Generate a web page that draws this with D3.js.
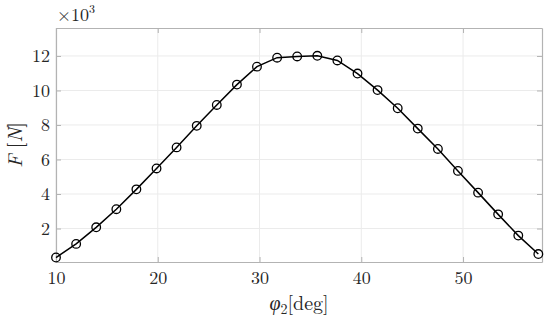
<!DOCTYPE html>
<html>
<head>
<meta charset="utf-8">
<script src="https://cdn.jsdelivr.net/npm/d3@7"></script>
<style>
  body { margin:0; background:#fff; }
  text { font-family: "Latin Modern Roman", "Liberation Serif", "DejaVu Serif", serif; fill:#262626; }
</style>
</head>
<body>
<div id="svgContainer"></div>
<script>
// data
var phi2 = [10.0, 11.98, 13.95, 15.93, 17.9, 19.88, 21.85, 23.83, 25.8, 27.78, 29.75, 31.73, 33.7,
            35.68, 37.65, 39.63, 41.6, 43.58, 45.55, 47.53, 49.5, 51.48, 53.45, 55.43, 57.4];
var force = [0.32, 1.11, 2.07, 3.12, 4.27, 5.48, 6.70, 7.95, 9.16, 10.34, 11.38, 11.90, 11.97,
             12.01, 11.74, 10.98, 10.02, 8.97, 7.79, 6.61, 5.34, 4.08, 2.82, 1.59, 0.52];
var xTicks = [10, 20, 30, 40, 50];
var yTicks = [2, 4, 6, 8, 10, 12];

var svgWidth = 550, svgHeight = 320;
var margin = {top:28, left:56, right:8, bottom:58};
var serif = '"Latin Modern Roman", "Liberation Serif", "DejaVu Serif", serif';

var svg = d3.select("#svgContainer").append("svg")
    .attr("width", svgWidth)
    .attr("height", svgHeight);

var x = d3.scaleLinear().domain([10, 57.76]).range([margin.left, svgWidth - margin.right]);
var y = d3.scaleLinear().domain([0.06, 13.62]).range([svgHeight - margin.bottom, margin.top]);

// grid
svg.append("g").selectAll("line").data(xTicks).enter().append("line")
    .attr("x1", d => x(d)).attr("x2", d => x(d))
    .attr("y1", y.range()[0]).attr("y2", y.range()[1])
    .attr("stroke", "#ebebeb").attr("stroke-width", 1);
svg.append("g").selectAll("line").data(yTicks).enter().append("line")
    .attr("y1", d => y(d)).attr("y2", d => y(d))
    .attr("x1", x.range()[0]).attr("x2", x.range()[1])
    .attr("stroke", "#ebebeb").attr("stroke-width", 1);

// axes (inner ticks, MATLAB style box)
var tickLen = 5;
function styleAxis(g) {
  g.select(".domain").attr("stroke", "#b3b3b3").attr("stroke-width", 1.2);
  g.selectAll(".tick line").attr("stroke", "#b3b3b3").attr("stroke-width", 1);
  g.selectAll(".tick text").attr("fill", "#262626").style("font-size", "18px")
    .style("font-family", serif);
}
svg.append("g")
    .attr("transform", "translate(0," + y.range()[0] + ")")
    .call(d3.axisBottom(x).tickValues(xTicks).tickSizeInner(-tickLen).tickSizeOuter(0).tickPadding(9))
    .call(styleAxis);
svg.append("g")
    .attr("transform", "translate(0," + y.range()[1] + ")")
    .call(d3.axisTop(x).tickValues(xTicks).tickSizeInner(-tickLen).tickSizeOuter(0).tickFormat(""))
    .call(styleAxis);
svg.append("g")
    .attr("transform", "translate(" + x.range()[0] + ",0)")
    .call(d3.axisLeft(y).tickValues(yTicks).tickSizeInner(-tickLen).tickSizeOuter(0).tickPadding(6))
    .call(styleAxis);
svg.append("g")
    .attr("transform", "translate(" + x.range()[1] + ",0)")
    .call(d3.axisRight(y).tickValues(yTicks).tickSizeInner(-tickLen).tickSizeOuter(0).tickFormat(""))
    .call(styleAxis);

// line + markers
var line = d3.line().x((d, i) => x(phi2[i])).y(d => y(d));
svg.append("path")
    .datum(force)
    .attr("d", line)
    .attr("fill", "none")
    .attr("stroke", "#000")
    .attr("stroke-width", 1.5);
svg.append("g").selectAll("circle").data(force).enter().append("circle")
    .attr("cx", (d, i) => x(phi2[i]))
    .attr("cy", d => y(d))
    .attr("r", 4.3)
    .attr("fill", "none")
    .attr("stroke", "#000")
    .attr("stroke-width", 1.3);

// exponent label
var ex = svg.append("text")
    .attr("x", margin.left + 1)
    .attr("y", 21)
    .style("font-size", "18px");
ex.append("tspan").text("\u00d710");
ex.append("tspan").attr("dy", -8).style("font-size", "12px").text("3");

// axis titles
var xl = svg.append("text")
    .attr("x", (x.range()[0] + x.range()[1]) / 2)
    .attr("y", 310)
    .attr("text-anchor", "middle")
    .style("font-size", "20px");
xl.append("tspan").style("font-style", "italic").text("\u03c6");
xl.append("tspan").attr("dy", 4).style("font-size", "14px").text("2");
xl.append("tspan").attr("dy", -4).text("[deg]");

var yl = svg.append("text")
    .attr("transform", "translate(22," + ((y.range()[0] + y.range()[1]) / 2) + ") rotate(-90)")
    .attr("text-anchor", "middle")
    .style("font-size", "20px");
yl.append("tspan").style("font-style", "italic").text("F");
yl.append("tspan").text(" [");
yl.append("tspan").style("font-style", "italic").text("N");
yl.append("tspan").text("]");
</script>
</body>
</html>
